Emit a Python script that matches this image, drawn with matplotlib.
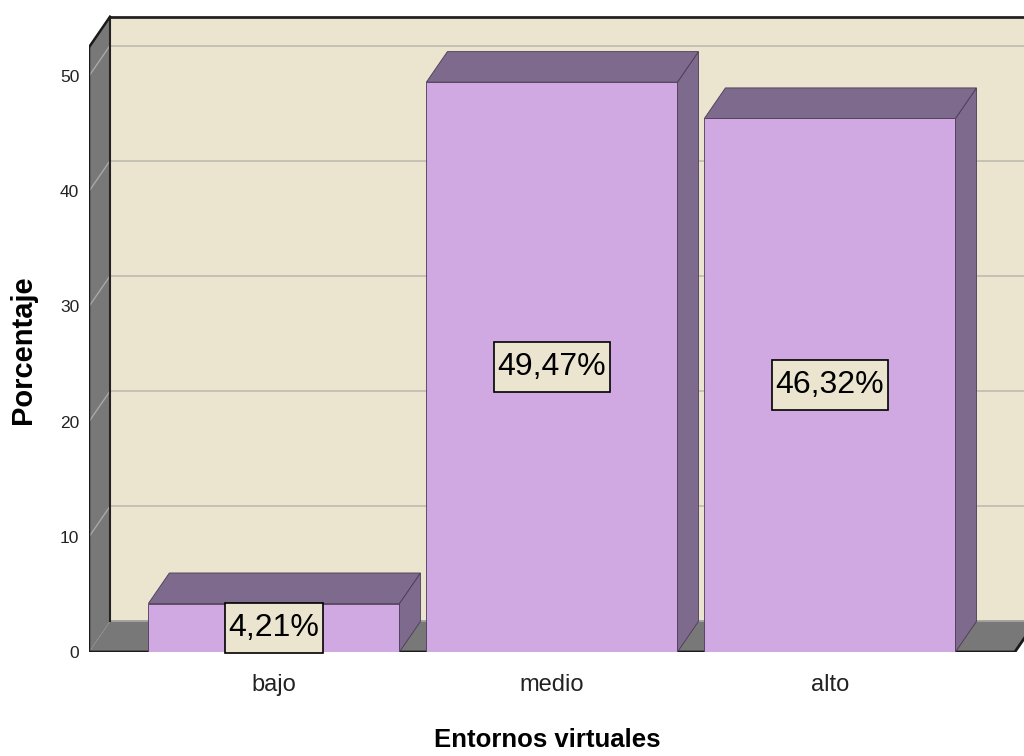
import numpy as np
import matplotlib.pyplot as plt
from matplotlib.patches import Polygon, Rectangle
from matplotlib.path import Path

# Datos del gráfico
categorias = ['bajo', 'medio', 'alto']
porcentajes = [4.21, 49.47, 46.32]
etiquetas = ['4,21%', '49,47%', '46,32%']
yticks = [0, 10, 20, 30, 40, 50]

plt.rcParams['font.family'] = ['Liberation Sans', 'DejaVu Sans']

# Colores estilo SPSS
c_pared = '#EBE5D0'
c_gris = '#787878'
c_frente = '#D0A9E3'
c_lado = '#7E6A8C'
c_borde = '#4A3A55'


def caja(x0, y0, width, height, mutation_size):
    # caja rectangular con más margen vertical que horizontal
    px, py = 0.12 * mutation_size, 0.32 * mutation_size
    xa, ya, xb, yb = x0 - px, y0 - py, x0 + width + px, y0 + height + py
    return Path([(xa, ya), (xb, ya), (xb, yb), (xa, yb), (xa, ya)],
                [Path.MOVETO, Path.LINETO, Path.LINETO, Path.LINETO, Path.CLOSEPOLY])


fig = plt.figure(figsize=(10.24, 7.56), dpi=100)
ax = fig.add_axes([89 / 1024, 104 / 756, 935 / 1024, 637 / 756])
ax.set_xlim(-0.665, 2.698)
ax.set_ylim(0, 55.3)

# profundidad 3D (desplazamiento hacia atrás)
dx, dy = 0.0755, 2.65
x0, x1 = -0.665, 2.665
ytop = 52.5

# pared de fondo
ax.add_patch(Polygon([(x0 + dx, dy), (x1 + dx + 0.3, dy), (x1 + dx + 0.3, ytop + dy),
                      (x0 + dx, ytop + dy)], closed=True, facecolor=c_pared,
                     edgecolor='none', zorder=1))
for t in yticks[1:]:
    ax.plot([x0 + dx, x1 + dx + 0.3], [t + dy, t + dy], color='#BEBAB0', lw=1.2, zorder=2)
ax.plot([x0 + dx, x1 + dx + 0.3], [ytop + dy, ytop + dy], color='#222222', lw=2, zorder=5)
ax.plot([x0 + dx, x0 + dx], [dy, ytop + dy], color='#222222', lw=1.5, zorder=5)

# suelo
ax.add_patch(Polygon([(x0, 0), (x1, 0), (x1 + dx, dy), (x0 + dx, dy)], closed=True,
                     facecolor=c_gris, edgecolor='none', zorder=3))
ax.plot([x0 + dx, x1 + dx], [dy, dy], color='#9A9A9A', lw=1.2, zorder=3)
ax.plot([x0, x1, x1 + dx], [0, 0, dy], color='#1A1A1A', lw=2, zorder=6)

# pared izquierda
ax.add_patch(Polygon([(x0, 0), (x0 + dx, dy), (x0 + dx, ytop + dy), (x0, ytop)], closed=True,
                     facecolor=c_gris, edgecolor='none', zorder=3))
for t in yticks[1:]:
    ax.plot([x0, x0 + dx], [t, t + dy], color='#A8A8A8', lw=1.0, zorder=4)
ax.plot([x0, x0, x0 + dx], [0, ytop, ytop + dy], color='#1A1A1A', lw=1.8, zorder=6)

# barras 3D
w = 0.903
for i, (v, lab) in enumerate(zip(porcentajes, etiquetas)):
    xl, xr = i - w / 2, i + w / 2
    ax.add_patch(Polygon([(xr, 0), (xr + dx, dy), (xr + dx, v + dy), (xr, v)], closed=True,
                         facecolor=c_lado, edgecolor=c_borde, lw=0.6, zorder=7))
    ax.add_patch(Polygon([(xl, v), (xr, v), (xr + dx, v + dy), (xl + dx, v + dy)], closed=True,
                         facecolor=c_lado, edgecolor=c_borde, lw=0.6, zorder=7))
    ax.add_patch(Rectangle((xl, 0), w, v, facecolor=c_frente, edgecolor=c_borde, lw=0.6, zorder=8))
    ax.text(i, v / 2, lab, ha='center', va='center', fontsize=23, color='black', zorder=10,
            bbox=dict(boxstyle=caja, facecolor=c_pared, edgecolor='black', lw=1.2))

# ejes
for s in ax.spines.values():
    s.set_visible(False)
ax.set_yticks(yticks)
ax.set_xticks(range(len(categorias)), categorias)
ax.tick_params(axis='y', length=0, pad=7, labelsize=12.5, labelcolor='#222222')
ax.tick_params(axis='x', length=0, pad=16, labelsize=17, labelcolor='#222222')

fig.text(547 / 1024, 1 - 747 / 756, 'Entornos virtuales', ha='center', va='baseline',
         fontsize=18.5, fontweight='bold')
fig.text(23 / 1024, 1 - 350 / 756, 'Porcentaje', ha='center', va='center', rotation=90,
         fontsize=21, fontweight='bold')

fig.savefig('out.png', dpi=100)
